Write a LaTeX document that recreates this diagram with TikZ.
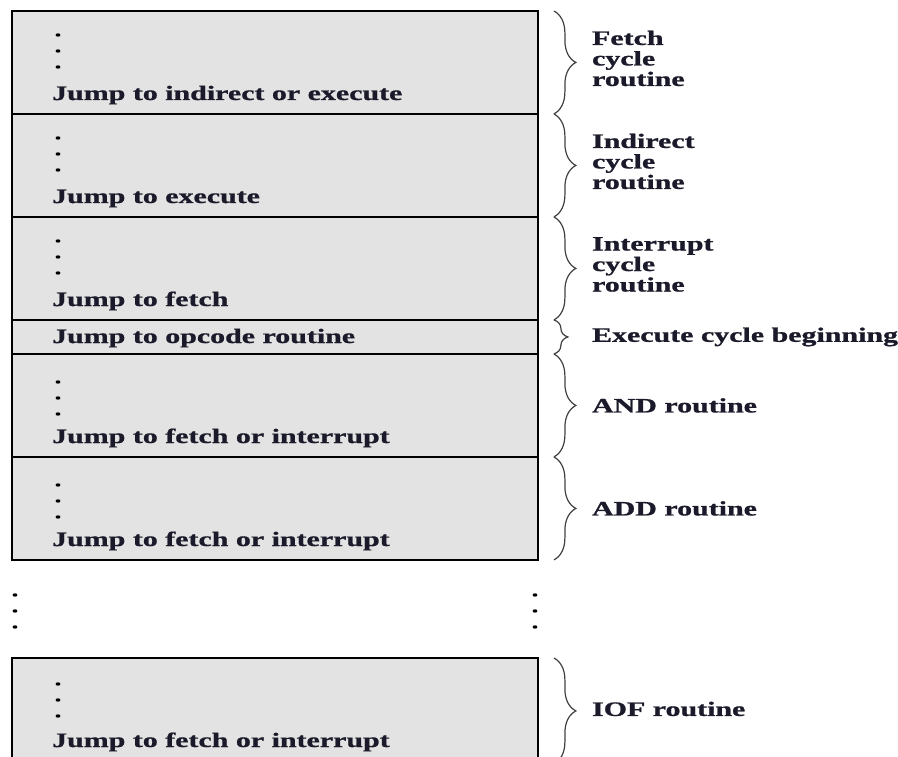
\documentclass[tikz,border=0pt]{standalone}
\usepackage{graphicx}
\usepackage{fontspec}
\setmainfont{Liberation Serif}
\newfontfamily\heavyserif{Liberation Serif Bold}[FakeBold=0.8]
\usetikzlibrary{decorations.pathreplacing,calc}

\definecolor{boxgray}{HTML}{E3E3E3}
\definecolor{ink}{HTML}{1A1A2A}
% wide bold lettering of the listing
\newcommand{\wide}[1]{\scalebox{1.46}[1]{#1}}
\newcommand{\labfont}{\fontsize{20.5}{20.5}\heavyserif\selectfont}
% three stacked dots standing for omitted microinstructions
\newcommand{\vdotsat}[2]{%
  \foreach \k in {0,16,32} {\fill[black] (#1,#2+\k) ellipse [x radius=2.4, y radius=1.7];}}

\begin{document}
\begin{tikzpicture}[x=1pt,y=-1pt,
  rowbox/.style={draw=black, line width=1.9pt, fill=boxgray, minimum width=526pt,
    inner sep=0pt, anchor=north west},
  rowtext/.style={anchor=base west, inner sep=0pt, text=ink, font=\labfont},
  tag/.style={anchor=west, inner sep=0pt, align=left, text=ink, font=\labfont},
  curly/.style={draw=black!75, line width=1.2pt, decorate,
    decoration={brace, amplitude=#1}}]
\useasboundingbox (0,0) rectangle (898,757);
\begin{scope}
\clip (0,0) rectangle (898,757);

% control memory segments
\node[rowbox, minimum height=103pt] (fetch) at (11,10) {};
\node[rowbox, minimum height=103pt] (indir) at (11,113) {};
\node[rowbox, minimum height=103pt] (intr)  at (11,216) {};
\node[rowbox, minimum height=34pt]  (exec)  at (11,319) {};
\node[rowbox, minimum height=103pt] (andr)  at (11,353) {};
\node[rowbox, minimum height=103pt] (addr)  at (11,456) {};
\node[rowbox, minimum height=106pt] (iofr)  at (11,657) {};

% contents of each segment
\vdotsat{58}{35}
\node[rowtext] (ft) at (52,100) {\wide{Jump to indirect or execute}};
\vdotsat{58}{138}
\node[rowtext] (it) at (52,203) {\wide{Jump to execute}};
\vdotsat{58}{241}
\node[rowtext] (nt) at (52,306) {\wide{Jump to fetch}};
\node[rowtext] (et) at (52,343) {\wide{Jump to opcode routine}};
\vdotsat{58}{382}
\node[rowtext] (at) at (52,443) {\wide{Jump to fetch or interrupt}};
\vdotsat{58}{485}
\node[rowtext] (dt) at (52,546) {\wide{Jump to fetch or interrupt}};
\vdotsat{58}{684}
\node[rowtext] (ot) at (52,747) {\wide{Jump to fetch or interrupt}};

% gap between the ADD and IOF routines
\vdotsat{15}{595}
\vdotsat{535}{595}

% braces marking each routine
\foreach \r/\a in {fetch/22, indir/22, intr/22, exec/14, andr/22, addr/22, iofr/22} {
  \draw[curly=\a] ([xshift=15pt,yshift=-1pt]\r.north east) -- ([xshift=15pt,yshift=1pt]\r.south east);
}

% routine names
\node[tag] (ftag) at ($(fetch.east)+(53,-4)$) {\wide{Fetch}\\\wide{cycle}\\\wide{routine}};
\node[tag] (itag) at ($(indir.east)+(53,-4)$) {\wide{Indirect}\\\wide{cycle}\\\wide{routine}};
\node[tag] (ntag) at ($(intr.east)+(53,-4)$) {\wide{Interrupt}\\\wide{cycle}\\\wide{routine}};
\node[tag] (etag) at ($(exec.east)+(53,0)$) {\wide{Execute cycle beginning}};
\node[tag] (atag) at ($(andr.east)+(53,0)$) {\wide{AND routine}};
\node[tag] (dtag) at ($(addr.east)+(53,0)$) {\wide{ADD routine}};
\node[tag] (otag) at ($(iofr.east)+(53,-2)$) {\wide{IOF routine}};
\end{scope}
\end{tikzpicture}
\end{document}
